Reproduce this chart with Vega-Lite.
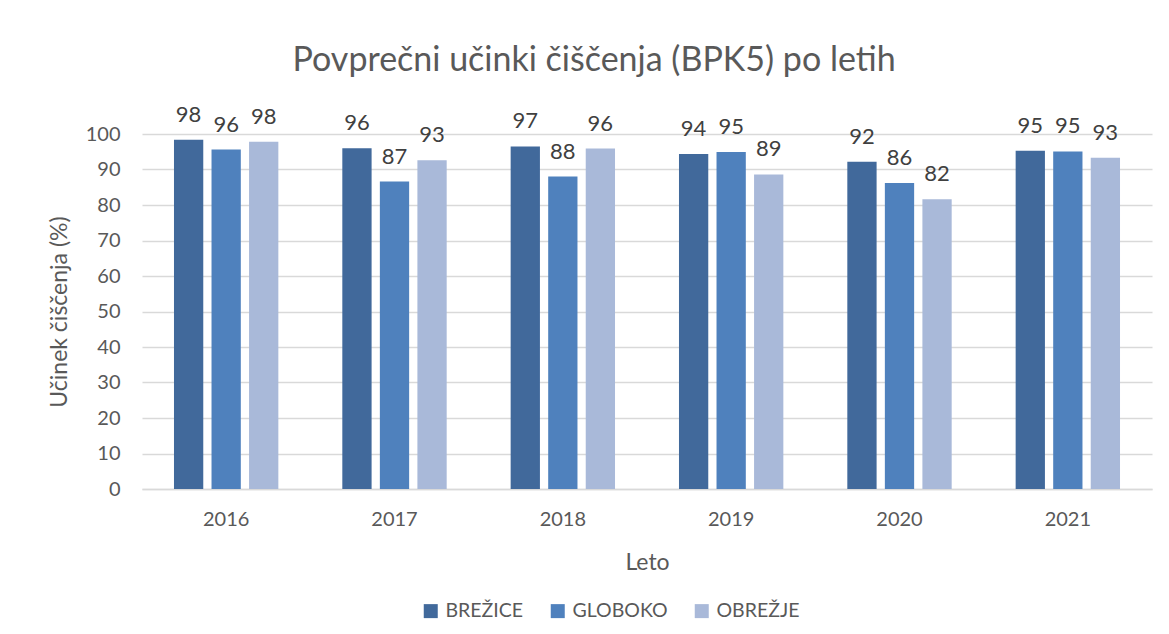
{
  "$schema": "https://vega.github.io/schema/vega-lite/v6.json",
  "width": 1010,
  "height": 355,
  "autosize": {"type": "none"},
  "padding": {"left": 142, "top": 134, "right": 17, "bottom": 145},
  "background": "white",
  "config": {
    "font": "Lato",
    "view": {"stroke": null},
    "axis": {"labelColor": "#595959", "titleColor": "#595959", "labelFont": "Lato", "titleFont": "Lato", "labelFontSize": 20, "titleFontSize": 23, "titleFontWeight": "normal"}
  },
  "title": {
    "text": "Povprečni učinki čiščenja (BPK5) po letih",
    "fontSize": 34,
    "fontWeight": "normal",
    "color": "#595959",
    "font": "Lato",
    "anchor": "middle",
    "frame": "bounds",
    "offset": 26,
    "dx": -6
  },
  "data": {
    "values": [
      {"leto": "2016", "naprava": "BREŽICE", "ucinek": 98.4},
      {"leto": "2016", "naprava": "GLOBOKO", "ucinek": 95.6},
      {"leto": "2016", "naprava": "OBREŽJE", "ucinek": 97.8},
      {"leto": "2017", "naprava": "BREŽICE", "ucinek": 96.0},
      {"leto": "2017", "naprava": "GLOBOKO", "ucinek": 86.6},
      {"leto": "2017", "naprava": "OBREŽJE", "ucinek": 92.6},
      {"leto": "2018", "naprava": "BREŽICE", "ucinek": 96.5},
      {"leto": "2018", "naprava": "GLOBOKO", "ucinek": 88.0},
      {"leto": "2018", "naprava": "OBREŽJE", "ucinek": 95.9},
      {"leto": "2019", "naprava": "BREŽICE", "ucinek": 94.4},
      {"leto": "2019", "naprava": "GLOBOKO", "ucinek": 94.9},
      {"leto": "2019", "naprava": "OBREŽJE", "ucinek": 88.6},
      {"leto": "2020", "naprava": "BREŽICE", "ucinek": 92.2},
      {"leto": "2020", "naprava": "GLOBOKO", "ucinek": 86.2},
      {"leto": "2020", "naprava": "OBREŽJE", "ucinek": 81.6},
      {"leto": "2021", "naprava": "BREŽICE", "ucinek": 95.3},
      {"leto": "2021", "naprava": "GLOBOKO", "ucinek": 95.1},
      {"leto": "2021", "naprava": "OBREŽJE", "ucinek": 93.3}
    ]
  },
  "encoding": {
    "x": {
      "field": "leto", "type": "nominal", "title": "Leto",
      "scale": {"paddingInner": 0.38, "paddingOuter": 0.19},
      "axis": {"labelAngle": 0, "ticks": false, "domainColor": "#D9D9D9", "domainWidth": 1.5, "labelPadding": 20, "titlePadding": 22}
    },
    "xOffset": {"field": "naprava", "type": "nominal", "scale": {"paddingInner": 0.22, "paddingOuter": 0}},
    "y": {
      "field": "ucinek", "type": "quantitative", "title": "Učinek čiščenja (%)",
      "scale": {"domain": [0, 100], "nice": false},
      "axis": {"values": [0,10,20,30,40,50,60,70,80,90,100], "domain": false, "ticks": false, "gridColor": "#D9D9D9", "gridWidth": 1.5, "labelPadding": 22, "titlePadding": 14}
    }
  },
  "layer": [
    {
      "mark": {"type": "bar"},
      "encoding": {
        "color": {
          "field": "naprava", "type": "nominal",
          "scale": {"domain": ["BREŽICE", "GLOBOKO", "OBREŽJE"], "range": ["#41699B", "#4F81BD", "#A9B9D9"]},
          "legend": {"orient": "none", "legendX": 279, "legendY": 467, "direction": "horizontal", "title": null, "symbolType": "square", "symbolSize": 196, "symbolStrokeWidth": 0, "labelFontSize": 19.5, "labelColor": "#595959", "labelFont": "Lato", "labelOffset": 5, "columnPadding": 24}
        }
      }
    },
    {
      "mark": {"type": "text", "baseline": "bottom", "dy": -13, "fontSize": 22, "color": "#404040", "font": "Lato"},
      "encoding": {
        "text": {"field": "ucinek", "type": "quantitative", "format": ".0f"}
      }
    }
  ]
}
